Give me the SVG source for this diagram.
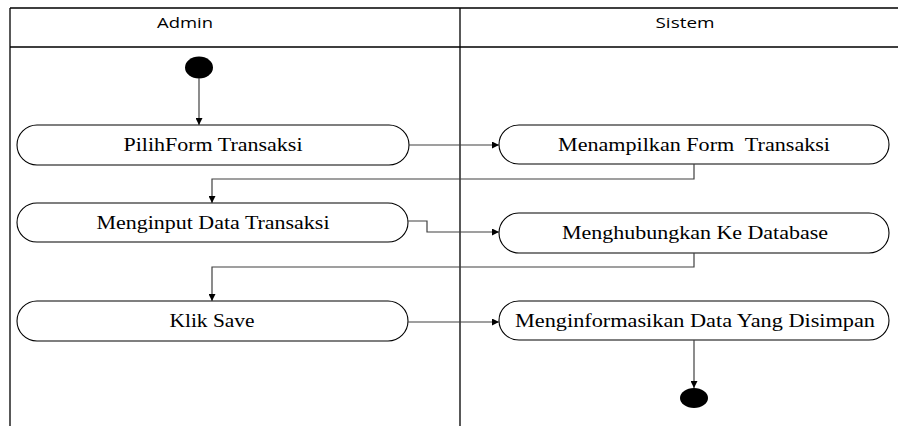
<svg xmlns="http://www.w3.org/2000/svg" width="898" height="426" viewBox="0 0 898 426">
<style>
.lane{stroke:#000;stroke-width:1.3;fill:none}
.node rect{fill:#fff;stroke:#000;stroke-width:1.1}
.node text{font-family:"Liberation Serif","Times New Roman",serif;font-size:18px;fill:#000;text-anchor:middle}
.hdr{font-family:"Open Sans","DejaVu Sans",sans-serif;font-size:15px;fill:#000;text-anchor:middle}
.edge{stroke:#404040;stroke-width:1.2;fill:none;marker-end:url(#ah)}
.dot{fill:#000}
</style>
<defs>
<marker id="ah" viewBox="0 0 10 10" refX="10" refY="5" markerWidth="9" markerHeight="7" markerUnits="userSpaceOnUse" orient="auto">
<path d="M0,0 L10,5 L0,10 z" fill="#000"/>
</marker>
</defs>
<rect width="898" height="426" fill="#fff"/>
<g id="swimlanes">
<path class="lane" d="M10,8 H898 M10,47 H898 M10,8 V426 M460,8 V426"/>
<text class="hdr" x="185" y="28" textLength="56" lengthAdjust="spacingAndGlyphs">Admin</text>
<text class="hdr" x="685" y="28" textLength="59" lengthAdjust="spacingAndGlyphs">Sistem</text>
</g>
<g id="start"><ellipse class="dot" cx="199" cy="67.5" rx="14" ry="11"/></g>
<g id="n1" class="node"><rect x="17" y="125" width="392" height="40" rx="20" ry="20"/><text x="213" y="151" textLength="179" lengthAdjust="spacingAndGlyphs">PilihForm Transaksi</text></g>
<g id="n2" class="node"><rect x="499" y="125" width="390" height="39" rx="20" ry="20"/><text x="694" y="151" textLength="272" lengthAdjust="spacingAndGlyphs" xml:space="preserve">Menampilkan Form  Transaksi</text></g>
<g id="n3" class="node"><rect x="17" y="203" width="391" height="39" rx="20" ry="20"/><text x="213" y="229" textLength="233" lengthAdjust="spacingAndGlyphs">Menginput Data Transaksi</text></g>
<g id="n4" class="node"><rect x="499" y="213" width="390" height="40" rx="20" ry="20"/><text x="695" y="239" textLength="266" lengthAdjust="spacingAndGlyphs">Menghubungkan Ke Database</text></g>
<g id="n5" class="node"><rect x="17" y="301" width="391" height="40" rx="20" ry="20"/><text x="212" y="327" textLength="85" lengthAdjust="spacingAndGlyphs">Klik Save</text></g>
<g id="n6" class="node"><rect x="499" y="301" width="390" height="39" rx="20" ry="20"/><text x="695" y="327" textLength="360" lengthAdjust="spacingAndGlyphs">Menginformasikan Data Yang Disimpan</text></g>
<g id="end"><ellipse class="dot" cx="694" cy="398" rx="14" ry="10"/></g>
<g id="connectors">
<path class="edge" d="M199,78 V125"/>
<path class="edge" d="M409,145 H499"/>
<path class="edge" d="M694,164 V179 H212 V203"/>
<path class="edge" d="M408,221 H427 V232 H499"/>
<path class="edge" d="M694,253 V267 H212 V301"/>
<path class="edge" d="M408,322 H499"/>
<path class="edge" d="M694,340 V388"/>
</g>
</svg>
